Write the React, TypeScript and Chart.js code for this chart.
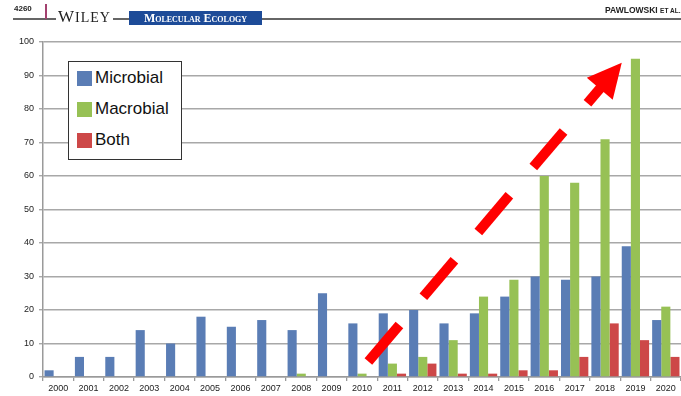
import React, { useEffect, useRef } from 'react';
import { Chart, registerables } from 'chart.js';

Chart.register(...registerables);

const years = ['2000','2001','2002','2003','2004','2005','2006','2007','2008','2009','2010','2011','2012','2013','2014','2015','2016','2017','2018','2019','2020'];
const microbial = [2, 6, 6, 14, 10, 18, 15, 17, 14, 25, 16, 19, 20, 16, 19, 24, 30, 29, 30, 39, 17];
const macrobial = [0, 0, 0, 0, 0, 0, 0, 0, 1, 0, 1, 4, 6, 11, 24, 29, 60, 58, 71, 95, 21];
const both = [0, 0, 0, 0, 0, 0, 0, 0, 0, 0, 0, 1, 4, 1, 1, 2, 2, 6, 16, 11, 6];
const seriesNames = ['Microbial', 'Macrobial', 'Both'];
const seriesColors = ['#5a7db5', '#97c155', '#cd4848'];
const yTicks = [0, 10, 20, 30, 40, 50, 60, 70, 80, 90, 100];

// trend arrow annotation, in data units (category index, value)
const arrowStart = { x: 10.21, y: 4.6 };
const arrowTip = { x: 18.55, y: 93.8 };

const arrowPlugin = {
  id: 'trendArrow',
  afterDatasetsDraw(chart: any) {
    const xs = chart.scales.x;
    const ys = chart.scales.y;
    const x0 = xs.getPixelForValue(arrowStart.x);
    const y0 = ys.getPixelForValue(arrowStart.y);
    const x1 = xs.getPixelForValue(arrowTip.x);
    const y1 = ys.getPixelForValue(arrowTip.y);
    const dx = x1 - x0, dy = y1 - y0;
    const L = Math.sqrt(dx * dx + dy * dy);
    const ux = dx / L, uy = dy / L;
    const nx = -uy, ny = ux;
    const ctx = chart.ctx;
    const dash = 48, gap = 37;
    const headLen = 34, headHalf = 17, shaftLen = 19;
    const headBase = L - headLen;
    const shaftStart = headBase - shaftLen;
    ctx.save();
    ctx.strokeStyle = '#ff0000';
    ctx.fillStyle = '#ff0000';
    ctx.lineWidth = 10;
    ctx.lineCap = 'butt';
    // dashes
    for (let s = 0; s < shaftStart - gap / 2; s += dash + gap) {
      const e = Math.min(s + dash, shaftStart - gap);
      ctx.beginPath();
      ctx.moveTo(x0 + ux * s, y0 + uy * s);
      ctx.lineTo(x0 + ux * e, y0 + uy * e);
      ctx.stroke();
    }
    // shaft
    ctx.beginPath();
    ctx.moveTo(x0 + ux * shaftStart, y0 + uy * shaftStart);
    ctx.lineTo(x0 + ux * (headBase + 2), y0 + uy * (headBase + 2));
    ctx.stroke();
    // head
    const bx = x0 + ux * headBase, by = y0 + uy * headBase;
    ctx.beginPath();
    ctx.moveTo(x1, y1);
    ctx.lineTo(bx + nx * headHalf, by + ny * headHalf);
    ctx.lineTo(bx - nx * headHalf, by - ny * headHalf);
    ctx.closePath();
    ctx.fill();
    ctx.restore();
  },
};

export default function App() {
  const ref = useRef<HTMLCanvasElement | null>(null);
  useEffect(() => {
    if (!ref.current) return;
    const data = [microbial, macrobial, both];
    const chart = new Chart(ref.current, {
      type: 'bar',
      data: {
        labels: years,
        datasets: data.map((d, i) => ({
          label: seriesNames[i],
          data: d,
          backgroundColor: seriesColors[i],
          borderWidth: 0,
          categoryPercentage: 0.9,
          barPercentage: 1.0,
        })),
      },
      options: {
        animation: false,
        responsive: false,
        devicePixelRatio: 1,
        layout: { padding: { top: 42, left: 0, right: 0, bottom: 0 } },
        plugins: { legend: { display: false }, tooltip: { enabled: false } },
        scales: {
          x: {
            grid: { drawOnChartArea: false, drawTicks: true, tickLength: 4, color: '#9a9a9a', lineWidth: 1.3 },
            border: { display: true, color: '#9a9a9a', width: 1.5 },
            ticks: { font: { family: 'Liberation Sans, Arial', size: 9 }, color: '#222', padding: 2, maxRotation: 0, autoSkip: false },
            afterFit: (s: any) => { s.height = 19; },
          },
          y: {
            min: 0,
            max: 100,
            afterBuildTicks: (s: any) => { s.ticks = yTicks.map((v) => ({ value: v })); },
            grid: { color: '#a8a8a8', lineWidth: 1.4, tickLength: 4, drawTicks: true },
            border: { display: true, color: '#9a9a9a', width: 1.5 },
            ticks: { font: { family: 'Liberation Sans, Arial', size: 9 }, color: '#222', padding: 5 },
            afterFit: (s: any) => { s.width = 43; },
          },
        },
      },
      plugins: [arrowPlugin],
    });
    return () => chart.destroy();
  }, []);

  const legendRow = (i: number, top: number) => (
    <div key={i} style={{ position: 'absolute', left: 8, top, display: 'flex', alignItems: 'center', height: 16 }}>
      <div style={{ width: 15, height: 15, background: seriesColors[i], marginRight: 3 }} />
      <span style={{ font: '17px "Liberation Sans", Arial, sans-serif', color: '#111', lineHeight: '16px' }}>{seriesNames[i]}</span>
    </div>
  );

  return (
    <div style={{ position: 'fixed', left: 0, top: 0, width: 681, height: 396, overflow: 'hidden', background: '#fff' }}>
      <canvas ref={ref} width={681} height={396} style={{ position: 'absolute', left: 0, top: 0, width: 681, height: 396 }} />
      {/* page header */}
      <div style={{ position: 'absolute', left: 13, top: 18, width: 668, height: 1.5, background: '#666' }} />
      <div style={{ position: 'absolute', left: 14, top: 4, font: 'bold 8px "Liberation Sans", Arial, sans-serif', color: '#222' }}>4260</div>
      <div style={{ position: 'absolute', left: 45, top: 4, width: 1.5, height: 15, background: '#a3416f' }} />
      <div style={{ position: 'absolute', left: 56, top: 8, background: '#fff', padding: '0 2px', font: '17px "Liberation Serif", serif', color: '#222', letterSpacing: 1, lineHeight: '18px' }}>
        W<span style={{ fontSize: 14 }}>ILEY</span>
      </div>
      <div style={{ position: 'absolute', left: 129, top: 11, width: 133, height: 14, background: '#1d4b98', color: '#fff', font: 'bold 12px "Liberation Serif", serif', fontVariant: 'small-caps', lineHeight: '14px', textAlign: 'center', whiteSpace: 'nowrap' }}>
        Molecular Ecology
      </div>
      <div style={{ position: 'absolute', left: 605, top: 5, font: 'bold 8.5px "Liberation Sans", Arial, sans-serif', color: '#222', whiteSpace: 'nowrap' }}>
        PAWLOWSKI <span style={{ fontSize: 6.5 }}>ET AL.</span>
      </div>
      {/* legend */}
      <div style={{ position: 'absolute', left: 68, top: 61, width: 112, height: 97, border: '1.5px solid #333', background: '#fff' }}>
        {legendRow(0, 8)}
        {legendRow(1, 39)}
        {legendRow(2, 70)}
      </div>
    </div>
  );
}
